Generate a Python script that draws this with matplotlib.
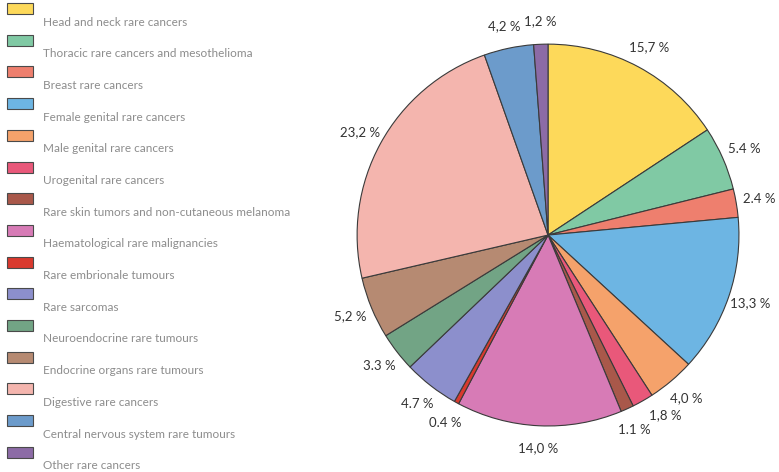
import matplotlib
matplotlib.use("Agg")
import matplotlib.pyplot as plt
from matplotlib.patches import Rectangle

# Categories, shares and colours
categories = [
    "Head and neck rare cancers",
    "Thoracic rare cancers and mesothelioma",
    "Breast rare cancers",
    "Female genital rare cancers",
    "Male genital rare cancers",
    "Urogenital rare cancers",
    "Rare skin tumors and non-cutaneous melanoma",
    "Haematological rare malignancies",
    "Rare embrionale tumours",
    "Rare sarcomas",
    "Neuroendocrine rare tumours",
    "Endocrine organs rare tumours",
    "Digestive rare cancers",
    "Central nervous system rare tumours",
    "Other rare cancers",
]
shares = [15.7, 5.4, 2.4, 13.3, 4.0, 1.8, 1.1, 14.0, 0.4, 4.7, 3.3, 5.2, 23.2, 4.2, 1.2]
share_labels = ["15,7 %", "5.4 %", "2.4 %", "13,3 %", "4,0 %", "1,8 %", "1.1 %", "14,0 %",
                "0.4 %", "4.7 %", "3.3 %", "5,2 %", "23,2 %", "4,2 %", "1,2 %"]
colors = ["#FDD95A", "#80C9A4", "#EE7F6E", "#6DB5E3", "#F5A26B", "#E9587A", "#A9584A",
          "#D77BB6", "#D9392E", "#8C8FCC", "#72A485", "#B68A72", "#F4B5AE", "#6C9BCB",
          "#8C6BA6"]

plt.rcParams["font.family"] = ["Lato", "DejaVu Sans"]

fig = plt.figure(figsize=(7.79, 4.72), dpi=100)

# pie
ax = fig.add_axes([0.4583, 0.0975, 0.4904, 0.809])
wedges, texts = ax.pie(
    shares, labels=share_labels, colors=colors, startangle=90, counterclock=False,
    labeldistance=1.12, radius=1,
    wedgeprops=dict(edgecolor="#3a3a3a", linewidth=0.8),
    textprops=dict(fontsize=9.5, color="#333333"),
)
for t in texts:
    t.set_ha("center")
    t.set_va("center")
# small nudges for the crowded labels at the bottom right
nudge = {5: (0.06, 0.03), 6: (-0.01, 0.0)}
for i, (dx, dy) in nudge.items():
    x, y = texts[i].get_position()
    texts[i].set_position((x + dx, y + dy))
ax.set_xlim(-1, 1)
ax.set_ylim(-1, 1)
ax.set_aspect("equal")
ax.axis("off")

# legend drawn by hand: swatch, then label a little lower
lax = fig.add_axes([0, 0, 1, 1])
lax.set_xlim(0, 779)
lax.set_ylim(472, 0)
lax.axis("off")
step = 31.7
for i, (name, c) in enumerate(zip(categories, colors)):
    y0 = 3 + i * step
    lax.add_patch(Rectangle((7, y0), 26, 11, facecolor=c, edgecolor="#4a4a4a", linewidth=0.8))
    lax.text(43, y0 + 19, name, fontsize=8.5, color="#8c8c8c", va="center", ha="left")

fig.savefig("out.png", dpi=100)
